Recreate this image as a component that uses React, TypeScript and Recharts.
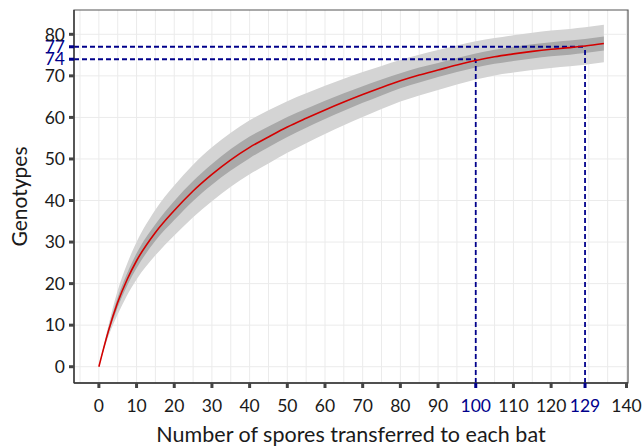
import React from 'react';
import {
  ComposedChart, Area, Line, XAxis, YAxis, CartesianGrid, ReferenceLine, ReferenceArea,
} from 'recharts';

// sample sizes (spores per bat)
const SPORES = [0, 2.5, 5, 7.5, 10, 15, 20, 25, 30, 35, 40, 45, 50, 55, 60, 65, 70, 75, 80, 85, 90, 95, 100, 105, 110, 115, 120, 125, 129, 134];
const GENOTYPES = [0, 8.5, 15.5, 21, 25.5, 32.3, 37.6, 42.3, 46.3, 49.8, 52.8, 55.3, 57.7, 59.8, 61.8, 63.7, 65.5, 67.2, 68.8, 70.2, 71.4, 72.6, 73.7, 74.6, 75.3, 75.9, 76.4, 76.8, 77.2, 77.8];
const OUTER_LO = [0, 7.2, 12.6, 17.2, 21.0, 26.8, 31.6, 36.0, 39.8, 43.3, 46.3, 48.9, 51.5, 53.8, 56.0, 58.1, 60.1, 62.0, 63.8, 65.3, 66.6, 67.9, 69.1, 70.1, 70.8, 71.4, 71.9, 72.3, 72.7, 73.3];
const OUTER_HI = [0, 9.8, 18.4, 24.8, 30.0, 37.8, 43.6, 48.6, 52.8, 56.3, 59.3, 61.7, 63.9, 65.8, 67.6, 69.3, 70.9, 72.4, 73.8, 75.1, 76.2, 77.3, 78.3, 79.1, 79.8, 80.4, 80.9, 81.3, 81.7, 82.3];
const INNER_LO = [0, 7.9, 14.3, 19.5, 23.7, 30.3, 35.3, 39.9, 43.8, 47.2, 50.2, 52.8, 55.3, 57.5, 59.6, 61.6, 63.5, 65.3, 67.0, 68.4, 69.7, 70.9, 72.0, 72.9, 73.6, 74.2, 74.7, 75.1, 75.5, 76.1];
const INNER_HI = [0, 9.1, 16.7, 22.5, 27.3, 34.3, 39.9, 44.7, 48.8, 52.4, 55.4, 57.8, 60.1, 62.1, 64.0, 65.8, 67.5, 69.1, 70.6, 72.0, 73.1, 74.3, 75.4, 76.3, 77.0, 77.6, 78.1, 78.5, 78.9, 79.5];

const X_TICKS = [0, 10, 20, 30, 40, 50, 60, 70, 80, 90, 100, 110, 120, 129, 140];
const Y_TICKS = [0, 10, 20, 30, 40, 50, 60, 70, 74, 77, 80];
const X_MARKS = [100, 129];
const Y_MARKS = [74, 77];
const X_GRID = [-5, 0, 5, 10, 15, 20, 25, 30, 35, 40, 45, 50, 55, 60, 65, 70, 75, 80, 85, 90, 95, 100, 105, 110, 115, 120, 125, 130, 135, 140];
const Y_GRID = [0, 10, 20, 30, 40, 50, 60, 70, 80];

const X_DOMAIN = [-6.6, 140.4];
const Y_DOMAIN = [-3.92, 85.85];

const FONT = 'Lato, "Open Sans", sans-serif';
const BLUE = '#00008b';

const data = SPORES.map((s, i) => ({
  s,
  g: GENOTYPES[i],
  outer: [OUTER_LO[i], OUTER_HI[i]],
  inner: [INNER_LO[i], INNER_HI[i]],
}));

const XTick = (props: any) => {
  const { x, y, payload } = props;
  const hl = X_MARKS.includes(payload.value);
  return (
    <g>
      <line x1={x} x2={x} y1={y} y2={y + 5} stroke={hl ? BLUE : '#444'} strokeWidth={3} />
      <text x={x} y={y + 29} textAnchor="middle" fontSize={17.5} fontFamily={FONT} fill={hl ? BLUE : '#1a1a1a'}>
        {payload.value}
      </text>
    </g>
  );
};

const YTick = (props: any) => {
  const { x, y, payload } = props;
  const hl = Y_MARKS.includes(payload.value);
  return (
    <g>
      <line x1={x - 5} x2={x} y1={y} y2={y} stroke={hl ? BLUE : '#444'} strokeWidth={3} />
      <text x={x - 9} y={y + 6.2} textAnchor="end" fontSize={17.5} fontFamily={FONT} fill={hl ? BLUE : '#1a1a1a'}>
        {payload.value}
      </text>
    </g>
  );
};

export default function App() {
  return (
    <div style={{ position: 'absolute', left: 0, top: 0, background: '#fff' }}>
      <ComposedChart width={643} height={448} data={data} margin={{ top: 10, right: 15, bottom: 0, left: 0 }}>
        <CartesianGrid stroke="#ebebeb" strokeWidth={1} verticalValues={X_GRID} horizontalValues={Y_GRID} />
        <XAxis
          dataKey="s"
          type="number"
          domain={X_DOMAIN}
          allowDataOverflow
          ticks={X_TICKS}
          interval={0}
          height={65}
          tickSize={0}
          tickMargin={0}
          tickLine={false}
          tick={<XTick />}
          axisLine={{ stroke: '#333', strokeWidth: 1.3 }}
          label={{ value: 'Number of spores transferred to each bat', position: 'insideBottom', offset: 6, fontSize: 21.5, fontFamily: FONT, fill: '#1a1a1a' }}
        />
        <YAxis
          type="number"
          domain={Y_DOMAIN}
          allowDataOverflow
          ticks={Y_TICKS}
          interval={0}
          width={74}
          tickSize={0}
          tickMargin={0}
          tickLine={false}
          tick={<YTick />}
          axisLine={{ stroke: '#333', strokeWidth: 1.3 }}
          label={{ value: 'Genotypes', angle: -90, position: 'insideLeft', offset: 20, fontSize: 21, fontFamily: FONT, fill: '#1a1a1a', style: { textAnchor: 'middle' } }}
        />
        <ReferenceArea x1={X_DOMAIN[0]} x2={X_DOMAIN[1]} y1={Y_DOMAIN[0]} y2={Y_DOMAIN[1]} fill="none" stroke="#555" strokeWidth={1.2} />
        <Area dataKey="outer" type="monotone" stroke="none" fill="#d4d4d4" fillOpacity={1} isAnimationActive={false} />
        <Area dataKey="inner" type="monotone" stroke="none" fill="#a9a9a9" fillOpacity={1} isAnimationActive={false} />
        <ReferenceLine segment={[{ x: X_DOMAIN[0], y: 74 }, { x: 100, y: 74 }]} stroke={BLUE} strokeWidth={1.8} strokeDasharray="5 3" />
        <ReferenceLine segment={[{ x: X_DOMAIN[0], y: 77 }, { x: 129, y: 77 }]} stroke={BLUE} strokeWidth={1.8} strokeDasharray="5 3" />
        <ReferenceLine segment={[{ x: 100, y: Y_DOMAIN[0] }, { x: 100, y: 74 }]} stroke={BLUE} strokeWidth={1.8} strokeDasharray="5 3" />
        <ReferenceLine segment={[{ x: 129, y: Y_DOMAIN[0] }, { x: 129, y: 77 }]} stroke={BLUE} strokeWidth={1.8} strokeDasharray="5 3" />
        <Line dataKey="g" type="monotone" stroke="#d40000" strokeWidth={1.6} dot={false} activeDot={false} isAnimationActive={false} />
      </ComposedChart>
    </div>
  );
}
